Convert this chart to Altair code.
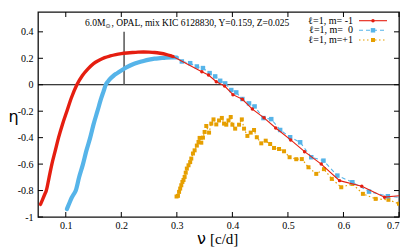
import altair as alt
import pandas as pd

# ---------------- data ----------------
red_dense_x = [0.0545, 0.058, 0.062, 0.065, 0.070, 0.075, 0.081, 0.087, 0.094, 0.102,
               0.110, 0.120, 0.130, 0.140, 0.150, 0.160, 0.170, 0.180, 0.190, 0.200,
               0.210, 0.220, 0.230, 0.240, 0.250, 0.260, 0.270, 0.280, 0.290]
red_dense_y = [-0.905, -0.87, -0.83, -0.80, -0.70, -0.60, -0.50, -0.40, -0.30, -0.20,
               -0.10, 0.0, 0.07, 0.12, 0.16, 0.185, 0.205, 0.218, 0.228, 0.235,
               0.24, 0.244, 0.247, 0.248, 0.247, 0.244, 0.238, 0.23, 0.218]
red_sparse_x = [0.293, 0.345, 0.357, 0.371, 0.386, 0.401, 0.418, 0.436, 0.457, 0.478,
                0.505, 0.530, 0.560, 0.593, 0.633, 0.674, 0.710]
red_sparse_y = [0.214, 0.098, 0.073, 0.023, -0.01, -0.075, -0.11, -0.184, -0.25, -0.327,
                -0.417, -0.506, -0.60, -0.725, -0.767, -0.85, -0.835]

blue_dense_x = [0.102, 0.106, 0.110, 0.114, 0.118, 0.124, 0.131, 0.137, 0.144, 0.150,
                0.157, 0.164, 0.168, 0.172, 0.176, 0.180, 0.186, 0.192, 0.200, 0.210,
                0.220, 0.230, 0.240, 0.250, 0.260, 0.270, 0.280, 0.290, 0.300]
blue_dense_y = [-0.94, -0.90, -0.86, -0.83, -0.80, -0.70, -0.60, -0.50, -0.40, -0.30,
                -0.20, -0.10, -0.05, 0.0, 0.025, 0.045, 0.068, 0.086, 0.108, 0.133,
                0.153, 0.168, 0.18, 0.19, 0.197, 0.201, 0.205, 0.207, 0.206]
blue_sparse_x = [0.309, 0.324, 0.336, 0.347, 0.359, 0.369, 0.378, 0.387, 0.398, 0.407,
                 0.418, 0.430, 0.440, 0.456, 0.470, 0.486, 0.504, 0.522, 0.542, 0.564,
                 0.589, 0.616, 0.646, 0.680, 0.710]
blue_sparse_y = [0.176, 0.163, 0.138, 0.126, 0.088, 0.063, 0.03, 0.01, -0.04, -0.058,
                 -0.108, -0.141, -0.164, -0.252, -0.26, -0.342, -0.397, -0.435, -0.548, -0.574,
                 -0.687, -0.737, -0.808, -0.843, -0.855]

orange_x = [0.2995, 0.302, 0.304, 0.306, 0.308, 0.310, 0.312, 0.314, 0.316, 0.318,
            0.321, 0.324, 0.326, 0.329, 0.332, 0.336, 0.339, 0.341, 0.344, 0.347,
            0.350, 0.353, 0.358, 0.362, 0.366, 0.371, 0.376, 0.381, 0.385, 0.389,
            0.393, 0.397, 0.400, 0.405, 0.412, 0.417, 0.421, 0.427, 0.433, 0.439,
            0.444, 0.452, 0.460, 0.468, 0.475, 0.484, 0.493, 0.503, 0.515, 0.525,
            0.537, 0.551, 0.565, 0.579, 0.596, 0.616, 0.635, 0.658, 0.681, 0.700]
orange_y = [-0.845, -0.84, -0.81, -0.785, -0.76, -0.735, -0.72, -0.697, -0.665, -0.634,
            -0.609, -0.585, -0.558, -0.52, -0.496, -0.46, -0.433, -0.402, -0.438, -0.40,
            -0.357, -0.312, -0.362, -0.294, -0.262, -0.30, -0.27, -0.251, -0.294, -0.302,
            -0.27, -0.244, -0.302, -0.332, -0.302, -0.262, -0.332, -0.387, -0.362, -0.342,
            -0.397, -0.443, -0.423, -0.448, -0.478, -0.486, -0.503, -0.548, -0.563, -0.562,
            -0.624, -0.674, -0.638, -0.712, -0.775, -0.75, -0.825, -0.863, -0.87, -0.90]

marker_x = [0.205]
marker_y0 = [0.0]
marker_y1 = [0.4]

x_ticks = [0.1, 0.2, 0.3, 0.4, 0.5, 0.6, 0.7]
y_ticks = [-1, -0.8, -0.6, -0.4, -0.2, 0, 0.2, 0.4]

legend_labels = ["ℓ=1, m= -1", "ℓ=1, m=\u00a0\u00a00", "ℓ=1, m=+1"]
title_parts = ["6.0M", "⊙", ", OPAL, mix KIC 6128830, Y=0.159, Z=0.025"]

RED, BLUE, ORANGE = "#e51e10", "#56b4e9", "#e69f00"
W, H = 361, 205
SERIF = "Liberation Serif"


def frame(xs, ys):
    return pd.DataFrame({"x": xs, "y": ys, "i": list(range(len(xs)))})


xs = alt.Scale(domain=[0.05, 0.7], nice=False, zero=False)
ys = alt.Scale(domain=[-1, 0.55], nice=False, zero=False)
X = alt.X("x:Q", scale=xs, axis=alt.Axis(values=x_ticks, labelExpr="'' + datum.value", title=None,
                                         labelPadding=3))
Y = alt.Y("y:Q", scale=ys, axis=alt.Axis(values=y_ticks, labelExpr="'' + datum.value",
                                         title="η", titleAngle=0, titleX=-25, titleY=104,
                                         titleAlign="center", titleBaseline="middle",
                                         titleFont="DejaVu Sans", titleFontSize=16,
                                         titleFontWeight="normal", titleColor="black"))

red_all = frame(red_dense_x + red_sparse_x, red_dense_y + red_sparse_y)
blue_all = frame(blue_dense_x + blue_sparse_x, blue_dense_y + blue_sparse_y)

layers = []
# zero line
layers.append(alt.Chart(pd.DataFrame({"y": [0.0]})).mark_rule(color="black", strokeWidth=1)
              .encode(y=Y, x=alt.value(0), x2=alt.value(W)))
# vertical marker
layers.append(alt.Chart(pd.DataFrame({"x": marker_x, "y": marker_y0, "y1": marker_y1}))
              .mark_rule(color="#555555", strokeWidth=1.5)
              .encode(x=X, y=Y, y2="y1:Q"))
# orange
odf = frame(orange_x, orange_y)
layers.append(alt.Chart(odf).mark_line(color=ORANGE, strokeWidth=1.2, strokeDash=[1.5, 2.5], clip=True)
              .encode(x=X, y=Y, order="i:Q"))
layers.append(alt.Chart(odf).mark_point(shape="square", filled=True, color=ORANGE, size=16, opacity=1, clip=True)
              .encode(x=X, y=Y))
# blue
layers.append(alt.Chart(blue_all).mark_line(color=BLUE, strokeWidth=1.1, strokeDash=[4, 3], clip=True)
              .encode(x=X, y=Y, order="i:Q"))
layers.append(alt.Chart(frame(blue_dense_x, blue_dense_y)).mark_line(color=BLUE, strokeWidth=4.2, clip=True,
                                                                      interpolate="monotone", strokeCap="round")
              .encode(x=X, y=Y, order="i:Q"))
layers.append(alt.Chart(frame(blue_sparse_x, blue_sparse_y)).mark_point(shape="square", filled=True, color=BLUE, size=20, opacity=1, clip=True)
              .encode(x=X, y=Y))
# red
layers.append(alt.Chart(red_all).mark_line(color=RED, strokeWidth=1.1, clip=True)
              .encode(x=X, y=Y, order="i:Q"))
layers.append(alt.Chart(frame(red_dense_x, red_dense_y)).mark_line(color=RED, strokeWidth=3.4, clip=True,
                                                                    interpolate="monotone", strokeCap="round")
              .encode(x=X, y=Y, order="i:Q"))
layers.append(alt.Chart(frame(red_sparse_x, red_sparse_y)).mark_point(shape="circle", filled=True, color=RED, size=12, opacity=1, clip=True)
              .encode(x=X, y=Y))

# inward ticks on all four sides
xt = pd.DataFrame({"x": x_ticks})
yt = pd.DataFrame({"y": y_ticks})
layers.append(alt.Chart(xt).mark_rule(color="black", strokeWidth=1).encode(x=X, y=alt.value(0), y2=alt.value(5)))
layers.append(alt.Chart(xt).mark_rule(color="black", strokeWidth=1).encode(x=X, y=alt.value(H), y2=alt.value(H - 5)))
layers.append(alt.Chart(yt).mark_rule(color="black", strokeWidth=1).encode(y=Y, x=alt.value(0), x2=alt.value(5)))
layers.append(alt.Chart(yt).mark_rule(color="black", strokeWidth=1).encode(y=Y, x=alt.value(W), x2=alt.value(W - 5)))

# title inside the plot
tdf = pd.DataFrame({"t": title_parts})
layers.append(alt.Chart(tdf.iloc[[0]]).mark_text(font=SERIF, fontSize=9.5, align="left", baseline="alphabetic", color="black")
              .encode(text="t:N", x=alt.value(47), y=alt.value(13.5)))
layers.append(alt.Chart(tdf.iloc[[1]]).mark_text(font="DejaVu Sans", fontSize=6, align="left", baseline="alphabetic", color="black")
              .encode(text="t:N", x=alt.value(67.5), y=alt.value(15.5)))
layers.append(alt.Chart(tdf.iloc[[2]]).mark_text(font=SERIF, fontSize=9.5, align="left", baseline="alphabetic", color="black")
              .encode(text="t:N", x=alt.value(73.5), y=alt.value(13.5)))

# legend
rows_y = [8.7, 18.3, 28.0]
styles = [(RED, None, "circle", 12), (BLUE, [4, 3], "square", 20), (ORANGE, [1.5, 2.5], "square", 16)]
for k, lab in enumerate(legend_labels):
    col, dash, shp, sz = styles[k]
    ldf = pd.DataFrame({"t": [lab]})
    layers.append(alt.Chart(ldf).mark_text(font=SERIF, fontSize=10, align="right", baseline="middle", color="black")
                  .encode(text="t:N", x=alt.value(315), y=alt.value(rows_y[k])))
    rule_kw = dict(color=col, strokeWidth=1.1)
    if dash:
        rule_kw["strokeDash"] = dash
    layers.append(alt.Chart(ldf).mark_rule(**rule_kw)
                  .encode(x=alt.value(321), x2=alt.value(349), y=alt.value(rows_y[k])))
    layers.append(alt.Chart(ldf).mark_point(shape=shp, filled=True, color=col, size=sz, opacity=1)
                  .encode(x=alt.value(335), y=alt.value(rows_y[k])))

# x axis title
layers.append(alt.Chart(pd.DataFrame({"t": ["ν"]})).mark_text(font="DejaVu Sans", fontSize=16, align="left", baseline="alphabetic", color="black")
              .encode(text="t:N", x=alt.value(159), y=alt.value(232)))
layers.append(alt.Chart(pd.DataFrame({"t": ["[c/d]"]})).mark_text(font=SERIF, fontSize=15, align="left", baseline="alphabetic", color="black")
              .encode(text="t:N", x=alt.value(172), y=alt.value(232)))

chart = alt.layer(*layers).properties(
    width=W, height=H,
    autosize=alt.AutoSizeParams(type="none"),
    padding={"left": 30, "top": 4, "right": 8, "bottom": 32},
).configure_view(stroke="#111111", strokeWidth=1.3).configure_axis(
    domain=False, ticks=False, grid=False,
    labelFont=SERIF, labelFontSize=10, labelColor="black", labelPadding=5,
)

chart.save("out.html", embed_options={"renderer": "svg", "actions": False})
